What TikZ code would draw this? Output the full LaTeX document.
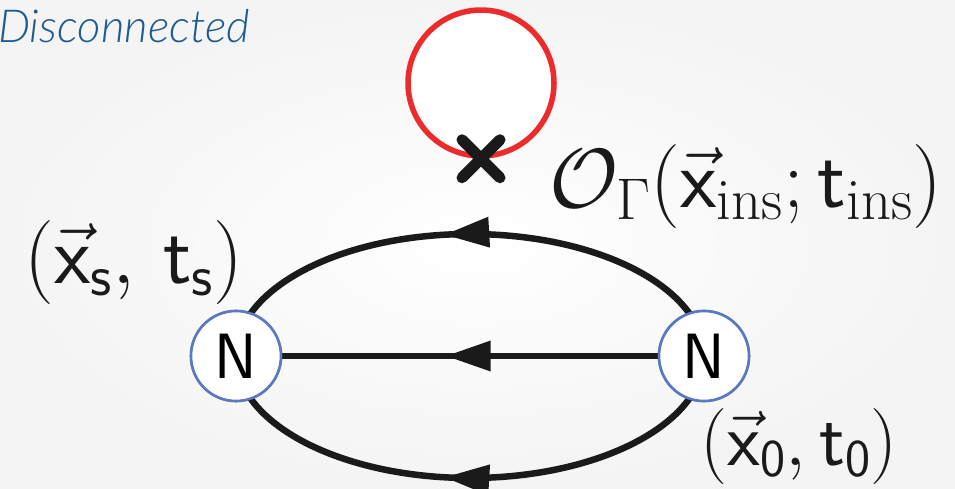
\RequirePackage{fix-cm}
\documentclass[tikz,border=0pt]{standalone}
\usepackage{amsmath}
\usepackage{fontspec}
\IfFontExistsTF{Lato Light}{\newfontfamily\latofont{Lato Light}}{\newfontfamily\latofont{Lato}}
\usetikzlibrary{arrows.meta,decorations.markings,shapes.misc}
\definecolor{titleblue}{HTML}{1F5B8F}
\definecolor{nblue}{HTML}{5B78C0}
\definecolor{loopred}{HTML}{EE2B2B}
\definecolor{linkblack}{HTML}{1A1A1A}
\tikzset{
  nucleon/.style={circle, draw=nblue, line width=2.6pt, fill=white, minimum size=90pt, inner sep=0pt,
    font=\fontsize{64}{70}\selectfont},
  quark/.style={draw=linkblack, line width=6.5pt},
  midarrow/.style={postaction={decorate, decoration={markings,
     mark=at position #1 with {\arrow{Triangle[length=45pt,width=29pt]}}}}},
  lbl/.style={inner sep=0pt, text=linkblack, font=\fontsize{84}{90}\selectfont}
}
\begin{document}
\begin{tikzpicture}[x=1pt,y=-1pt]
\useasboundingbox (0,0) rectangle (955,488);
\shade[inner color=white, outer color={rgb,255:red,244;green,244;blue,244}] (0,0) rectangle (955,488);
\node[anchor=base west, inner sep=0pt, text=titleblue, font=\latofont\itshape\fontsize{45.5}{50}\selectfont] (title) at (-2,42) {Disconnected};
% nucleons
\node[nucleon] (L) at (236,356) {$\mathsf{N}$};
\node[nucleon] (R) at (704,356) {$\mathsf{N}$};
% quark lines
\draw[quark, midarrow=0.545] (R.center) arc[start angle=0, end angle=180, x radius=234, y radius=122];
\draw[quark, midarrow=0.545] (R.center) arc[start angle=0, end angle=-180, x radius=234, y radius=122];
\draw[quark, midarrow=0.565] (R) -- (L);
\node[nucleon] at (L) {$\mathsf{N}$};
\node[nucleon] at (R) {$\mathsf{N}$};
% disconnected loop
\node[circle, draw=loopred, line width=5.5pt, fill=white, minimum size=146pt, inner sep=0pt] (loop) at (481,83) {};
\node[cross out, draw=linkblack, line width=11pt, line cap=round, minimum size=27pt, inner sep=0pt] (ins) at (loop.south) {};
% labels
\node[lbl] (ls) at (134,262) {$(\vec{\mathsf{x}}_{\mathsf{s}},\,\mathsf{t}_{\mathsf{s}})$};
\node[lbl] (lins) at (746,186) {$\mathcal{O}_{\Gamma}(\vec{\mathsf{x}}_{\mathrm{ins}};\mathsf{t}_{\mathrm{ins}})$};
\node[lbl, font=\fontsize{76}{82}\selectfont] (l0) at (799,446) {$(\vec{\mathsf{x}}_{\mathsf{0}},\mathsf{t}_{\mathsf{0}})$};
\end{tikzpicture}
\end{document}
